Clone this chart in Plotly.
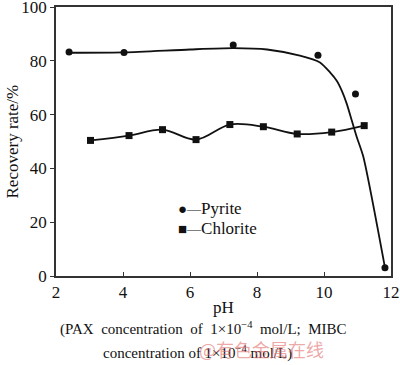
import plotly.graph_objects as go

pyrite_ph = [2.39, 4.03, 7.29, 9.82, 10.94, 11.82]
pyrite_rec = [83.3, 83.1, 85.9, 82.1, 67.7, 3.1]

chlorite_ph = [3.03, 4.18, 5.18, 6.18, 7.19, 8.19, 9.20, 10.23, 11.20]
chlorite_rec = [50.4, 52.2, 54.4, 50.7, 56.3, 55.5, 52.8, 53.5, 55.9]

# Fitted (hand-drawn) trend curve for pyrite
pyrite_fit_ph = [2.39, 4.03, 6.0, 7.3, 8.3, 9.28, 9.88, 10.18, 10.38, 10.53, 10.68, 10.83, 10.98, 11.17, 11.82]
pyrite_fit_rec = [83.0, 83.1, 84.2, 84.7, 84.2, 81.9, 79.4, 75.7, 72.6, 68.9, 64.0, 57.8, 51.6, 44.5, 3.1]

x_ticks = [2, 4, 6, 8, 10, 12]
y_ticks = [0, 20, 40, 60, 80, 100]

SERIF = "Liberation Serif"
INK = "#111111"

fig = go.Figure()

fig.add_trace(go.Scatter(x=pyrite_fit_ph, y=pyrite_fit_rec, mode="lines",
                         line=dict(color=INK, width=1.8, shape="spline", smoothing=0.7),
                         showlegend=False, hoverinfo="skip"))
fig.add_trace(go.Scatter(x=chlorite_ph, y=chlorite_rec, mode="lines",
                         line=dict(color=INK, width=1.8, shape="spline", smoothing=1.0),
                         showlegend=False, hoverinfo="skip"))
fig.add_trace(go.Scatter(x=pyrite_ph, y=pyrite_rec, mode="markers", name="Pyrite",
                         marker=dict(symbol="circle", size=7, color=INK),
                         showlegend=False, cliponaxis=False))
fig.add_trace(go.Scatter(x=chlorite_ph, y=chlorite_rec, mode="markers", name="Chlorite",
                         marker=dict(symbol="square", size=7, color=INK),
                         showlegend=False))

axis_common = dict(showline=True, linecolor="#333333", linewidth=1.5, mirror=True,
                   showgrid=False, zeroline=False, ticklen=4, tickwidth=1.2,
                   automargin=False, ticklabeloverflow="allow",
                   tickcolor="#333333", tickfont=dict(family=SERIF, size=17, color=INK))

fig.update_xaxes(range=[2, 12], tickvals=x_ticks, ticks="inside", **axis_common)
fig.update_yaxes(range=[0, 100], tickvals=y_ticks, ticks="outside", **axis_common)

ann = []
# axis titles
ann.append(dict(text="pH", xref="paper", yref="paper", x=0.5, y=0, yanchor="middle",
                yshift=-31, showarrow=False, font=dict(family=SERIF, size=17, color=INK)))
ann.append(dict(text="Recovery rate/%", xref="paper", yref="paper", x=0, y=0.5,
                xanchor="center", yanchor="middle", xshift=-44, textangle=-90,
                showarrow=False, font=dict(family=SERIF, size=17, color=INK)))
# caption
ann.append(dict(text="(PAX&nbsp; concentration&nbsp; of&nbsp; 1×10<sup>−4</sup>&nbsp; mol/L;&nbsp; MIBC",
                xref="paper", yref="paper", x=(203 - 56) / 335, y=0, yanchor="middle",
                yshift=-52, showarrow=False, font=dict(family=SERIF, size=15, color=INK)))
ann.append(dict(text="concentration of 1×10<sup>−4</sup> mol/L)",
                xref="paper", yref="paper", x=(197 - 56) / 335, y=0, yanchor="middle",
                yshift=-76, showarrow=False, font=dict(family=SERIF, size=15, color=INK)))
# legend
ann.append(dict(text='<span style="font-size:15px">●</span><span style="font-size:14px">—</span>Pyrite',
                xref="paper", yref="paper", x=(176 - 56) / 335, y=(276 - 208) / 269,
                xanchor="left", yanchor="middle", showarrow=False,
                font=dict(family=SERIF, size=17, color=INK)))
ann.append(dict(text='<span style="font-size:15px">■</span><span style="font-size:14px">—</span>Chlorite',
                xref="paper", yref="paper", x=(176 - 56) / 335, y=(276 - 228) / 269,
                xanchor="left", yanchor="middle", showarrow=False,
                font=dict(family=SERIF, size=17, color=INK)))
# watermark
ann.append(dict(text="@有色金属在线", xref="paper", yref="paper", x=(326 - 56) / 335, y=0,
                yanchor="middle", yshift=-73, showarrow=False,
                font=dict(family="Noto Sans CJK SC", size=18, color="rgba(225,110,110,0.6)")))

fig.update_layout(width=400, height=365, autosize=False,
                  margin=dict(l=56, r=9, t=7, b=89),
                  paper_bgcolor="white", plot_bgcolor="white",
                  showlegend=False, annotations=ann)

fig.write_html("out.html", config={"displayModeBar": False},
               post_script="document.body.style.margin='0';document.body.style.overflow='hidden';")
